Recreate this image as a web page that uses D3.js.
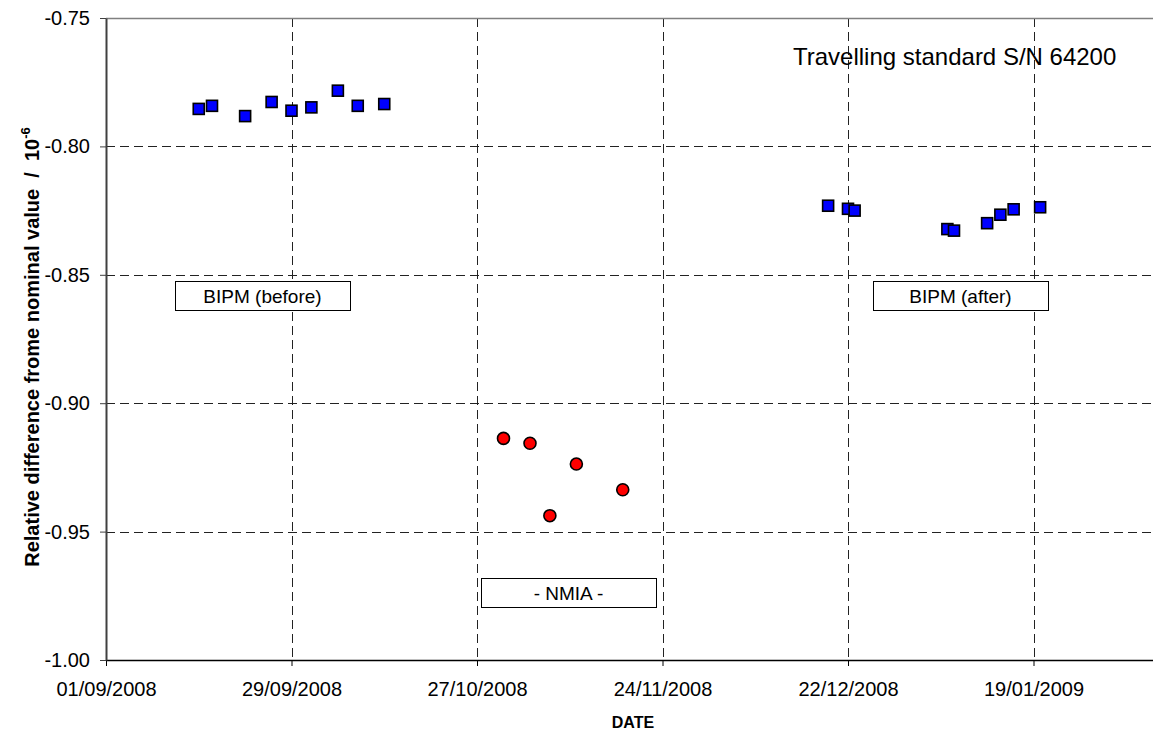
<!DOCTYPE html>
<html>
<head>
<meta charset="utf-8">
<script src="https://cdn.jsdelivr.net/npm/d3@7"></script>
<style>
  html, body { margin: 0; padding: 0; background: #fff; }
  svg { display: block; font-family: Arial, "Liberation Sans", sans-serif; }
</style>
</head>
<body>
<svg id="chart" width="1153" height="733"></svg>
<script>
// ---- data ----
const bipmBeforeDates = ["2008-09-15","2008-09-17","2008-09-22","2008-09-26","2008-09-29","2008-10-02","2008-10-06","2008-10-09","2008-10-13"];
const bipmBeforeValues = [-0.7854,-0.7842,-0.7882,-0.7827,-0.7861,-0.7848,-0.7783,-0.7842,-0.7835];

const nmiaDates = ["2008-10-31","2008-11-04","2008-11-07","2008-11-11","2008-11-18"];
const nmiaValues = [-0.9137,-0.9156,-0.9438,-0.9237,-0.9337];

const bipmAfterDates = ["2008-12-19","2008-12-22","2008-12-23","2009-01-06","2009-01-07","2009-01-12","2009-01-14","2009-01-16","2009-01-20"];
const bipmAfterValues = [-0.8231,-0.8243,-0.8250,-0.8322,-0.8328,-0.8299,-0.8266,-0.8245,-0.8237];

const xTickDates = ["2008-09-01","2008-09-29","2008-10-27","2008-11-24","2008-12-22","2009-01-19"];
const xTickLabels = ["01/09/2008","29/09/2008","27/10/2008","24/11/2008","22/12/2008","19/01/2009"];
const yTickValues = [-1.00,-0.95,-0.90,-0.85,-0.80,-0.75];
const yTickLabels = ["-1.00","-0.95","-0.90","-0.85","-0.80","-0.75"];

const annotationTexts = ["BIPM (before)", "BIPM (after)", "- NMIA -"];
const titleText = "Travelling standard S/N 64200";

// ---- layout ----
const W = 1153, H = 733;
const mLeft = 106, mTop = 18, mBottom = 660;
const pxPerDay = 6.625;
const parse = d3.utcParse("%Y-%m-%d");
const xMin = parse("2008-09-01");
const xMax = parse("2009-02-16");
const x = d3.scaleUtc().domain([xMin, xMax]).range([mLeft, mLeft + 168 * pxPerDay]);
const y = d3.scaleLinear().domain([-1.0, -0.75]).range([mBottom, mTop]);

const svg = d3.select("#chart");

// gridlines
const grid = svg.append("g");
grid.selectAll("line.hg").data(yTickValues.slice(1, -1)).join("line")
  .attr("x1", mLeft).attr("x2", W)
  .attr("y1", d => Math.round(y(d)) + 0.5).attr("y2", d => Math.round(y(d)) + 0.5)
  .attr("stroke", "#222").attr("stroke-width", 1).attr("stroke-dasharray", "9,5");
grid.selectAll("line.vg").data(xTickDates.slice(1)).join("line")
  .attr("x1", d => Math.round(x(parse(d))) + 0.5).attr("x2", d => Math.round(x(parse(d))) + 0.5)
  .attr("y1", mTop).attr("y2", mBottom)
  .attr("stroke", "#222").attr("stroke-width", 1).attr("stroke-dasharray", "9,5");

// top border
svg.append("line").attr("x1", mLeft).attr("x2", W).attr("y1", mTop + 0.5).attr("y2", mTop + 0.5)
  .attr("stroke", "#808080").attr("stroke-width", 1.5);

// x axis
const xAxis = d3.axisBottom(x)
  .tickValues(xTickDates.map(parse))
  .tickFormat((d, i) => xTickLabels[i])
  .tickSizeInner(6).tickSizeOuter(0).tickPadding(16);
const gx = svg.append("g").attr("transform", `translate(0,${mBottom})`).call(xAxis);
gx.select(".domain").attr("stroke", "#000").attr("stroke-width", 1.5)
  .attr("d", `M${mLeft},0.5H${W}`);
gx.selectAll(".tick line").attr("stroke", "#000");
gx.selectAll(".tick text").attr("font-size", 20).attr("fill", "#000")
  .attr("font-family", "Arial, 'Liberation Sans', sans-serif");

// y axis
const yAxis = d3.axisLeft(y)
  .tickValues(yTickValues)
  .tickFormat((d, i) => yTickLabels[i])
  .tickSizeInner(6).tickSizeOuter(0).tickPadding(10);
const gy = svg.append("g").attr("transform", `translate(${mLeft},0)`).call(yAxis);
gy.select(".domain").attr("stroke", "#404040").attr("stroke-width", 2);
gy.selectAll(".tick line").attr("stroke", "#404040");
gy.selectAll(".tick text").attr("font-size", 20).attr("fill", "#000")
  .attr("font-family", "Arial, 'Liberation Sans', sans-serif");

// axis titles
svg.append("text").attr("x", 633).attr("y", 728).attr("text-anchor", "middle")
  .attr("font-size", 16).attr("font-weight", "bold").text("DATE");

const yt = svg.append("text")
  .attr("transform", `translate(39,${(mTop + mBottom) / 2 + 8}) rotate(-90)`)
  .attr("text-anchor", "middle").attr("font-size", 20).attr("font-weight", "bold")
  .attr("xml:space", "preserve").style("white-space", "pre");
yt.append("tspan").text("Relative difference frome nominal value  /  10");
yt.append("tspan").attr("dy", -9).attr("font-size", 13).text("-6");

// chart label
svg.append("text").attr("x", 793).attr("y", 65).attr("font-size", 24).text(titleText);

// annotation boxes
const boxes = [
  { t: annotationTexts[0], x: 175, y: 281 },
  { t: annotationTexts[1], x: 873, y: 281 },
  { t: annotationTexts[2], x: 481, y: 578 }
];
const bw = 175, bh = 29;
const gb = svg.append("g");
boxes.forEach(b => {
  gb.append("rect").attr("x", b.x + 0.5).attr("y", b.y + 0.5).attr("width", bw).attr("height", bh)
    .attr("fill", "#fff").attr("stroke", "#000").attr("stroke-width", 1);
  gb.append("text").attr("x", b.x + bw / 2).attr("y", b.y + bh / 2 + 7)
    .attr("text-anchor", "middle").attr("font-size", 19).text(b.t);
});

// marks
const sq = 11;
const squares = bipmBeforeDates.map((d, i) => ({ d: parse(d), v: bipmBeforeValues[i] }))
  .concat(bipmAfterDates.map((d, i) => ({ d: parse(d), v: bipmAfterValues[i] })));
svg.append("g").selectAll("rect").data(squares).join("rect")
  .attr("x", p => x(p.d) - sq / 2).attr("y", p => y(p.v) - sq / 2)
  .attr("width", sq).attr("height", sq)
  .attr("fill", "#0000ff").attr("stroke", "#000").attr("stroke-width", 1.6);

const circles = nmiaDates.map((d, i) => ({ d: parse(d), v: nmiaValues[i] }));
svg.append("g").selectAll("circle").data(circles).join("circle")
  .attr("cx", p => x(p.d)).attr("cy", p => y(p.v)).attr("r", 6)
  .attr("fill", "#ff0000").attr("stroke", "#000").attr("stroke-width", 1.6);
</script>
</body>
</html>
